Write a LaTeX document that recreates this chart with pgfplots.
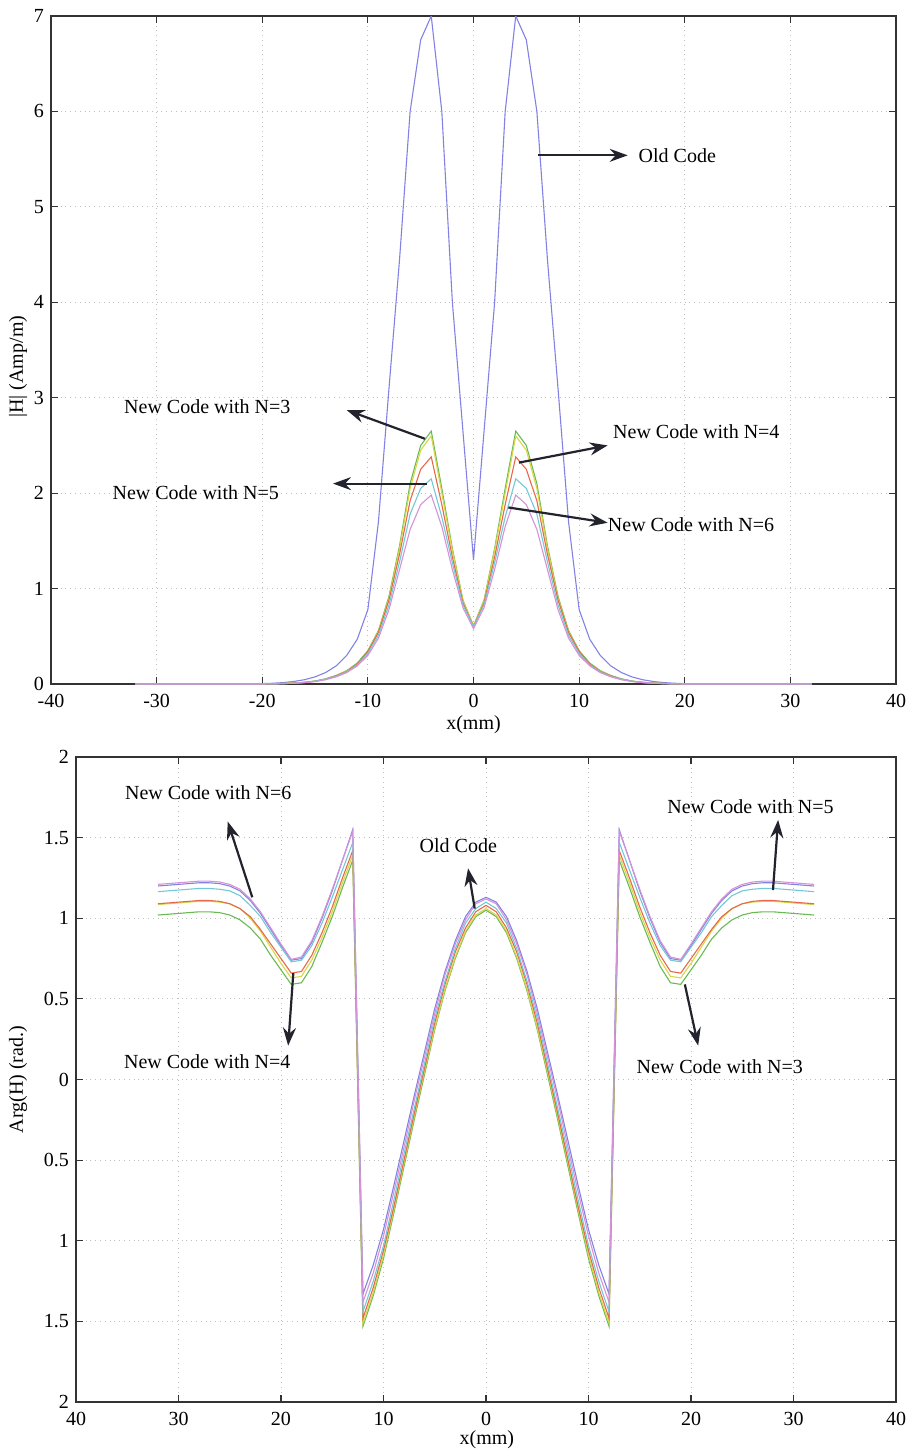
\documentclass[border=0pt]{standalone}
\usepackage{fontspec}
\setmainfont{Liberation Serif}
\usepackage{pgfplots}
\pgfplotsset{compat=1.18}
\usepackage{pgfplotstable}
\usetikzlibrary{arrows.meta}

\definecolor{cold}{RGB}{130,130,228}
\definecolor{cgreen}{RGB}{105,185,85}
\definecolor{cred}{RGB}{230,105,75}
\definecolor{ccyan}{RGB}{115,200,215}
\definecolor{cmag}{RGB}{215,145,215}
\definecolor{cyel}{RGB}{215,215,70}
\definecolor{carrow}{RGB}{35,35,45}

% |H| in Amp/m
\pgfplotstableread{
x old n3 n4 n5 n6 ny
-32 0 0 0 0 0 0
-25 0 0 0 0 0 0
-22 0.001 0 0 0 0 0
-20 0.004 0 0 0 0 0
-19 0.008 0.002 0.002 0.002 0.002 0.002
-18 0.015 0.005 0.005 0.004 0.004 0.005
-17 0.027 0.010 0.010 0.009 0.008 0.010
-16 0.045 0.018 0.017 0.016 0.015 0.017
-15 0.075 0.030 0.030 0.030 0.025 0.030
-14 0.12 0.055 0.050 0.050 0.045 0.050
-13 0.19 0.090 0.085 0.080 0.075 0.085
-12 0.30 0.14 0.13 0.125 0.12 0.135
-11 0.47 0.22 0.21 0.20 0.19 0.21
-10 0.78 0.35 0.34 0.32 0.30 0.34
-9 1.70 0.56 0.54 0.51 0.48 0.55
-8 3.10 0.92 0.88 0.83 0.78 0.90
-7 4.45 1.45 1.36 1.28 1.20 1.42
-6 6.00 2.10 1.92 1.78 1.62 2.05
-5 6.75 2.50 2.25 2.05 1.88 2.45
-4 7.00 2.65 2.38 2.15 1.98 2.60
-3 6.00 2.05 1.88 1.75 1.65 2.00
-2 4.00 1.42 1.33 1.27 1.20 1.40
-1 2.65 0.88 0.85 0.83 0.80 0.87
0 1.30 0.61 0.60 0.60 0.58 0.61
1 2.65 0.88 0.85 0.83 0.80 0.87
2 4.00 1.42 1.33 1.27 1.20 1.40
3 6.00 2.05 1.88 1.75 1.65 2.00
4 7.00 2.65 2.38 2.15 1.98 2.60
5 6.75 2.50 2.25 2.05 1.88 2.45
6 6.00 2.10 1.92 1.78 1.62 2.05
7 4.45 1.45 1.36 1.28 1.20 1.42
8 3.10 0.92 0.88 0.83 0.78 0.90
9 1.70 0.56 0.54 0.51 0.48 0.55
10 0.78 0.35 0.34 0.32 0.30 0.34
11 0.47 0.22 0.21 0.20 0.19 0.21
12 0.30 0.14 0.13 0.125 0.12 0.135
13 0.19 0.090 0.085 0.080 0.075 0.085
14 0.12 0.055 0.050 0.050 0.045 0.050
15 0.075 0.030 0.030 0.030 0.025 0.030
16 0.045 0.018 0.017 0.016 0.015 0.017
17 0.027 0.010 0.010 0.009 0.008 0.010
18 0.015 0.005 0.005 0.004 0.004 0.005
19 0.008 0.002 0.002 0.002 0.002 0.002
20 0.004 0 0 0 0 0
22 0.001 0 0 0 0 0
25 0 0 0 0 0 0
32 0 0 0 0 0 0
}\tabmag

% Arg(H) in rad
\pgfplotstableread{
x old n3 n4 n5 n6 ny
-32 1.20 1.02 1.09 1.165 1.21 1.085
-31 1.205 1.025 1.095 1.17 1.215 1.09
-30 1.21 1.03 1.10 1.175 1.22 1.095
-29 1.215 1.035 1.105 1.18 1.225 1.10
-28 1.22 1.04 1.11 1.185 1.23 1.105
-27 1.22 1.04 1.11 1.185 1.23 1.105
-26 1.215 1.035 1.105 1.18 1.225 1.10
-25 1.20 1.02 1.09 1.17 1.21 1.09
-24 1.17 0.99 1.06 1.14 1.18 1.06
-23 1.11 0.94 1.01 1.08 1.12 1.00
-22 1.03 0.87 0.93 1.01 1.04 0.92
-21 0.93 0.77 0.84 0.91 0.94 0.82
-20 0.83 0.68 0.75 0.82 0.84 0.72
-19 0.74 0.59 0.66 0.73 0.745 0.63
-18 0.75 0.60 0.67 0.74 0.76 0.64
-17 0.85 0.70 0.77 0.83 0.86 0.74
-16 1.00 0.85 0.91 0.97 1.01 0.88
-15 1.17 1.01 1.07 1.13 1.18 1.04
-14 1.36 1.19 1.25 1.30 1.36 1.22
-13 1.55 1.36 1.42 1.47 1.54 1.39
-12 -1.33 -1.53 -1.48 -1.44 -1.38 -1.51
-11 -1.15 -1.34 -1.29 -1.25 -1.20 -1.32
-10 -0.93 -1.11 -1.06 -1.03 -0.97 -1.09
-9 -0.66 -0.83 -0.79 -0.75 -0.70 -0.81
-8 -0.38 -0.54 -0.50 -0.46 -0.42 -0.52
-7 -0.10 -0.25 -0.21 -0.18 -0.13 -0.23
-6 0.17 0.03 0.07 0.10 0.14 0.05
-5 0.44 0.31 0.35 0.38 0.41 0.32
-4 0.67 0.55 0.59 0.61 0.65 0.56
-3 0.86 0.75 0.79 0.81 0.84 0.76
-2 1.01 0.91 0.94 0.97 0.99 0.92
-1 1.10 1.01 1.04 1.06 1.09 1.02
0 1.13 1.05 1.08 1.10 1.12 1.06
1 1.10 1.01 1.04 1.06 1.09 1.02
2 1.01 0.91 0.94 0.97 0.99 0.92
3 0.86 0.75 0.79 0.81 0.84 0.76
4 0.67 0.55 0.59 0.61 0.65 0.56
5 0.44 0.31 0.35 0.38 0.41 0.32
6 0.17 0.03 0.07 0.10 0.14 0.05
7 -0.10 -0.25 -0.21 -0.18 -0.13 -0.23
8 -0.38 -0.54 -0.50 -0.46 -0.42 -0.52
9 -0.66 -0.83 -0.79 -0.75 -0.70 -0.81
10 -0.93 -1.11 -1.06 -1.03 -0.97 -1.09
11 -1.15 -1.34 -1.29 -1.25 -1.20 -1.32
12 -1.33 -1.53 -1.48 -1.44 -1.38 -1.51
13 1.55 1.36 1.42 1.47 1.54 1.39
14 1.36 1.19 1.25 1.30 1.36 1.22
15 1.17 1.01 1.07 1.13 1.18 1.04
16 1.00 0.85 0.91 0.97 1.01 0.88
17 0.85 0.70 0.77 0.83 0.86 0.74
18 0.75 0.60 0.67 0.74 0.76 0.64
19 0.74 0.59 0.66 0.73 0.745 0.63
20 0.83 0.68 0.75 0.82 0.84 0.72
21 0.93 0.77 0.84 0.91 0.94 0.82
22 1.03 0.87 0.93 1.01 1.04 0.92
23 1.11 0.94 1.01 1.08 1.12 1.00
24 1.17 0.99 1.06 1.14 1.18 1.06
25 1.20 1.02 1.09 1.17 1.21 1.09
26 1.215 1.035 1.105 1.18 1.225 1.10
27 1.22 1.04 1.11 1.185 1.23 1.105
28 1.22 1.04 1.11 1.185 1.23 1.105
29 1.215 1.035 1.105 1.18 1.225 1.10
30 1.21 1.03 1.10 1.175 1.22 1.095
31 1.205 1.025 1.095 1.17 1.215 1.09
32 1.20 1.02 1.09 1.165 1.21 1.085
}\tabarg

\tikzset{arr/.style={-{Stealth[length=9pt,width=6.5pt,inset=3pt]}, line width=1.1pt, carrow}}

\pgfplotsset{
  mstyle/.style={
    scale only axis,
    xmin=-40, xmax=40,
    xtick={-40,-30,...,40},
    tick align=inside,
    xtick pos=both, ytick pos=both,
    major tick length=3.5pt,
    grid=major,
    major grid style={dotted, gray!50, line width=0.5pt},
    axis line style={black!80, line width=0.6pt},
    tick style={black!80, line width=0.6pt},
    /pgf/number format/assume math mode=true,
    tick label style={font=\fontsize{10}{12}\selectfont},
    xticklabel style={yshift=-1.5pt},
    label style={font=\fontsize{10}{12}\selectfont},
    every axis plot/.append style={line width=0.55pt, no marks},
    xlabel={x(mm)},
  },
}

\begin{document}
\begin{tikzpicture}
\useasboundingbox (0,0) rectangle (455pt,-726pt);

\begin{axis}[mstyle,
  at={(25.5pt,-8pt)}, anchor=north west,
  width=422.5pt, height=334pt,
  ymin=0, ymax=7, ytick={0,1,...,7},
  xticklabels={-40,-30,-20,-10,0,10,20,30,40},
  ylabel={|H| (Amp/m)},
  ylabel style={at={(axis description cs:-0.039,0.475)}, anchor=center},
  xlabel style={at={(axis description cs:0.5,-0.061)}, anchor=center},
]
\addplot[cold] table[x=x,y=old] {\tabmag};
\addplot[cgreen] table[x=x,y=n3] {\tabmag};
\addplot[cyel] table[x=x,y=ny] {\tabmag};
\addplot[cred] table[x=x,y=n4] {\tabmag};
\addplot[ccyan] table[x=x,y=n5] {\tabmag};
\addplot[cmag] table[x=x,y=n6] {\tabmag};

\draw[arr] (axis cs:6.1,5.54) -- (axis cs:14.6,5.54);
\node[anchor=west, inner sep=0pt] at (axis cs:15.6,5.54) {Old Code};
\draw[arr] (axis cs:-4.6,2.57) -- (axis cs:-12.0,2.87);
\node at (axis cs:-25.2,2.91) {New Code with N=3};
\draw[arr] (axis cs:-4.4,2.10) -- (axis cs:-13.3,2.10);
\node at (axis cs:-26.3,2.0) {New Code with N=5};
\draw[arr] (axis cs:4.3,2.32) -- (axis cs:12.7,2.50);
\node at (axis cs:21.1,2.64) {New Code with N=4};
\draw[arr] (axis cs:3.3,1.85) -- (axis cs:12.7,1.69);
\node at (axis cs:20.6,1.67) {New Code with N=6};
\end{axis}

\begin{axis}[mstyle,
  at={(38pt,-378.5pt)}, anchor=north west,
  width=410pt, height=322.5pt,
  ymin=-2, ymax=2, ytick={-2,-1.5,...,2},
  yticklabels={2,1.5,1,0.5,0,0.5,1,1.5,2},
  xticklabels={40,30,20,10,0,10,20,30,40},
  ylabel={Arg(H) (rad.)},
  ylabel style={at={(axis description cs:-0.0707,0.5)}, anchor=center},
  xlabel style={at={(axis description cs:0.501,-0.059)}, anchor=center},
]
\addplot[cold] table[x=x,y=old] {\tabarg};
\addplot[cgreen] table[x=x,y=n3] {\tabarg};
\addplot[cyel] table[x=x,y=ny] {\tabarg};
\addplot[cred] table[x=x,y=n4] {\tabarg};
\addplot[ccyan] table[x=x,y=n5] {\tabarg};
\addplot[cmag] table[x=x,y=n6] {\tabarg};

\draw[arr] (axis cs:-22.8,1.13) -- (axis cs:-25.2,1.60);
\node at (axis cs:-27.1,1.78) {New Code with N=6};
\draw[arr] (axis cs:-18.8,0.66) -- (axis cs:-19.3,0.21);
\node at (axis cs:-27.2,0.11) {New Code with N=4};
\draw[arr] (axis cs:-1.1,1.06) -- (axis cs:-1.75,1.31);
\node at (axis cs:-2.7,1.45) {Old Code};
\draw[arr] (axis cs:28.0,1.175) -- (axis cs:28.5,1.61);
\node at (axis cs:25.8,1.69) {New Code with N=5};
\draw[arr] (axis cs:19.4,0.59) -- (axis cs:20.7,0.21);
\node at (axis cs:22.8,0.08) {New Code with N=3};
\end{axis}
\end{tikzpicture}
\end{document}
